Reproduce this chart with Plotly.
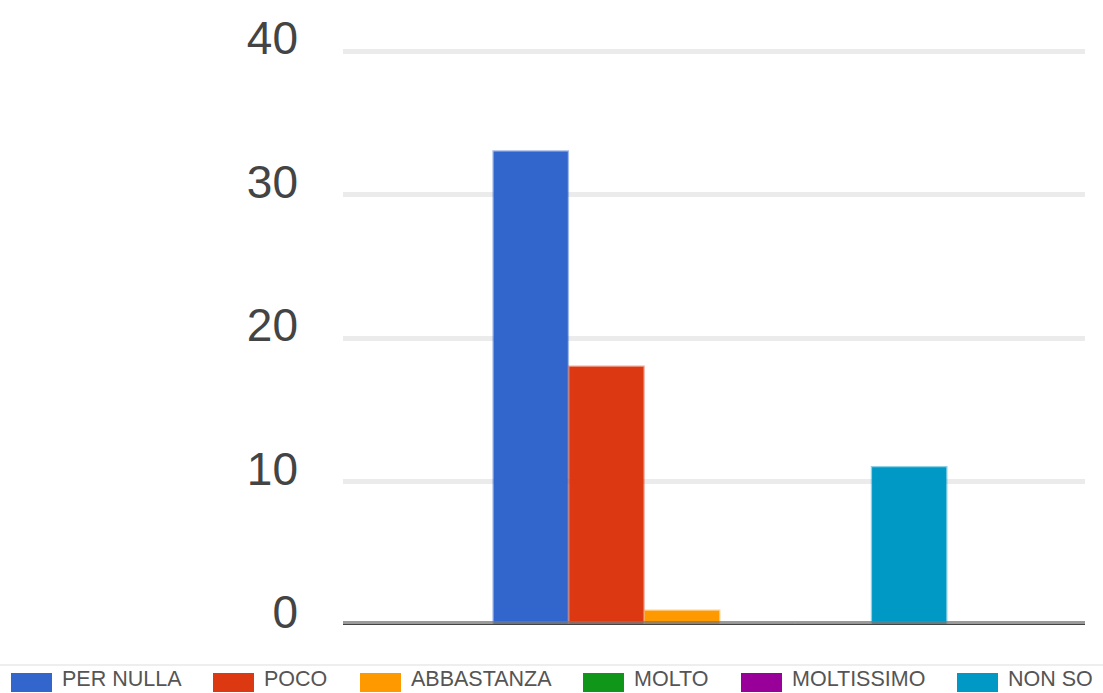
import plotly.graph_objects as go

categories = [""]
series_names = ["PER NULLA", "POCO", "ABBASTANZA", "MOLTO", "MOLTISSIMO", "NON SO"]
series_values = [33, 18, 1, 0, 0, 11]
series_colors = ["#3366cc", "#dc3912", "#ff9900", "#109618", "#990099", "#0099c6"]
y_ticks = [0, 10, 20, 30, 40]

W, H = 1103, 693
Y_MAX = 40.5
L, R, T, B = 343, 18, 44, 68
PW, PH = W - L - R, H - T - B

def hex_rgba(h, a):
    h = h.lstrip("#")
    return f"rgba({int(h[0:2],16)},{int(h[2:4],16)},{int(h[4:6],16)},{a})"

fig = go.Figure()
for name, val, col in zip(series_names, series_values, series_colors):
    fig.add_trace(go.Bar(
        x=categories, y=[val], name=name,
        marker=dict(color=col, line=dict(color=hex_rgba(col, 0.45), width=2.5)),
        showlegend=False, hoverinfo="name+y",
    ))

shapes = []
annotations = []
# baseline
shapes.append(dict(type="rect", xref="paper", yref="y", x0=0, x1=1,
                   ysizemode="pixel", yanchor=0, y0=1, y1=4,
                   fillcolor="rgba(120,120,120,0.75)", line=dict(width=0), layer="above"))
shapes.append(dict(type="rect", xref="paper", yref="y", x0=0, x1=1,
                   ysizemode="pixel", yanchor=0, y0=-2, y1=1,
                   fillcolor="#444444", line=dict(width=0), layer="above"))

def px2x(px):
    return (px - L) / PW
def py2y(py):
    return (H - B - py) / PH

# legend separator line
shapes.append(dict(type="line", xref="paper", yref="paper", x0=px2x(0), x1=px2x(W),
                   y0=py2y(665), y1=py2y(665), line=dict(color="#eeeeee", width=2)))

# manual legend
sw_x = [11, 213, 360, 583, 741, 957]
for name, col, sx in zip(series_names, series_colors, sw_x):
    shapes.append(dict(type="rect", xref="paper", yref="paper",
                       x0=px2x(sx), x1=px2x(sx + 41), y0=py2y(673), y1=py2y(692),
                       fillcolor=col, line=dict(width=0)))
    annotations.append(dict(xref="paper", yref="paper", x=px2x(sx + 50), y=py2y(692),
                            text=name, showarrow=False, xanchor="left", yanchor="bottom",
                            borderpad=0,
                            font=dict(family="Liberation Sans, Arial", size=21.5, color="#555555")))

fig.update_layout(
    width=W, height=H,
    margin=dict(l=L, r=R, t=T, b=B, pad=0),
    plot_bgcolor="white", paper_bgcolor="white",
    barmode="group", bargap=0.388, bargroupgap=0.02,
    showlegend=False,
    shapes=shapes, annotations=annotations,
    xaxis=dict(range=[-0.508, 0.492], showgrid=False, zeroline=False,
               showticklabels=False, fixedrange=True),
    yaxis=dict(range=[0, Y_MAX], tickvals=y_ticks, ticktext=[str(v) for v in y_ticks],
               showgrid=True, gridcolor="#ebebeb", gridwidth=5, zeroline=False,
               ticks="", ticklabelstandoff=44, ticklabelshift=-13,
               tickfont=dict(family="Liberation Sans, Arial", size=46, color="#444444")),
)

fig.write_html("out.html", config={"displayModeBar": False},
               post_script="document.body.style.margin='0';document.body.style.padding='0';")
